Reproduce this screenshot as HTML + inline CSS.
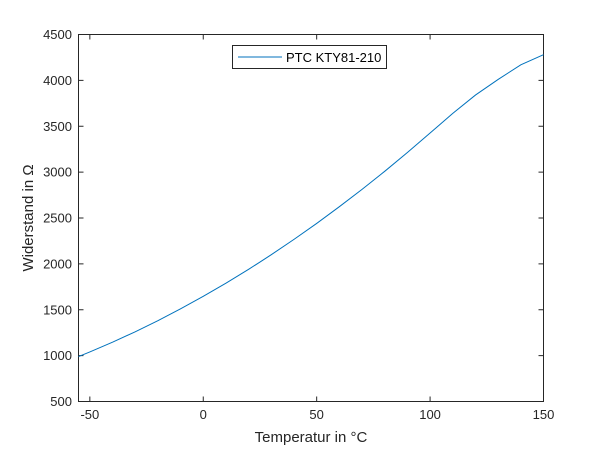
<!DOCTYPE html>
<html><head><meta charset="utf-8"><style>
body{margin:0;background:#fff;}
svg{display:block;font-family:"Liberation Sans",sans-serif;}
</style></head><body>
<svg id="chart" width="600" height="450">
<rect x="0" y="0" width="600" height="450" fill="#fff"/>
<rect x="78.5" y="34.5" width="465" height="367" fill="#fff" stroke="#262626" stroke-width="1"/>
<g id="xticks"></g>
<g id="yticks"></g>
<path id="line" fill="none" stroke="#0072bd" stroke-width="1"/>
<text x="311" y="442" font-size="15" text-anchor="middle" fill="#262626">Temperatur in °C</text>
<text transform="translate(33,218) rotate(-90)" font-size="15" text-anchor="middle" fill="#262626">Widerstand in Ω</text>
<g>
<rect x="232.5" y="45.5" width="154" height="23" fill="#fff" stroke="#262626" stroke-width="1"/>
<line x1="238" y1="57" x2="282" y2="57" stroke="#0072bd" stroke-width="1"/>
<text x="286" y="62" font-size="13" fill="#000">PTC KTY81-210</text>
</g>
</svg>
<script>
const temps=[-55,-50,-40,-30,-20,-10,0,10,20,25,30,40,50,60,70,80,90,100,110,120,130,140,150];
const resist=[990,1040,1146,1260,1381,1510,1646,1790,1941,2020,2100,2267,2441,2623,2812,3009,3214,3426,3640,3840,4010,4170,4280];
const xTicks=[-50,0,50,100,150];
const yTicks=[500,1000,1500,2000,2500,3000,3500,4000,4500];
const X0=78.5,X1=543.5,Y0=401.5,Y1=34.5;
function sx(v){return X0+(v+55)/205*(X1-X0);}
function sy(v){return Y0-(v-500)/4000*(Y0-Y1);}
const ns="http://www.w3.org/2000/svg";
const xg=document.getElementById('xticks'),yg=document.getElementById('yticks');
xTicks.forEach(t=>{
 const x=sx(t);
 [[Y0,Y0-5],[Y1,Y1+5]].forEach(p=>{const l=document.createElementNS(ns,'line');
 l.setAttribute('x1',x);l.setAttribute('x2',x);l.setAttribute('y1',p[0]);l.setAttribute('y2',p[1]);l.setAttribute('stroke','#262626');
 
 
 xg.appendChild(l);});
 const tx=document.createElementNS(ns,'text');tx.setAttribute('x',x);tx.setAttribute('y',419);tx.setAttribute('font-size','13');tx.setAttribute('text-anchor','middle');tx.setAttribute('fill','#262626');tx.textContent=t;
 
 
 xg.appendChild(tx);
});
yTicks.forEach(t=>{
 const y=sy(t);
 [[X0,X0+5],[X1,X1-5]].forEach(p=>{const l=document.createElementNS(ns,'line');
 l.setAttribute('x1',p[0]);l.setAttribute('x2',p[1]);l.setAttribute('y1',y);l.setAttribute('y2',y);l.setAttribute('stroke','#262626');
 
 
 yg.appendChild(l);});
 const tx=document.createElementNS(ns,'text');tx.setAttribute('x',72);tx.setAttribute('y',y+4.5);tx.setAttribute('font-size','13');tx.setAttribute('text-anchor','end');tx.setAttribute('fill','#262626');tx.textContent=t;
 
 
 yg.appendChild(tx);
});
document.getElementById('line').setAttribute('d',temps.map((t,i)=>(i?'L':'M')+sx(t).toFixed(2)+','+sy(resist[i]).toFixed(2)).join(' '));
</script>
</body></html>
